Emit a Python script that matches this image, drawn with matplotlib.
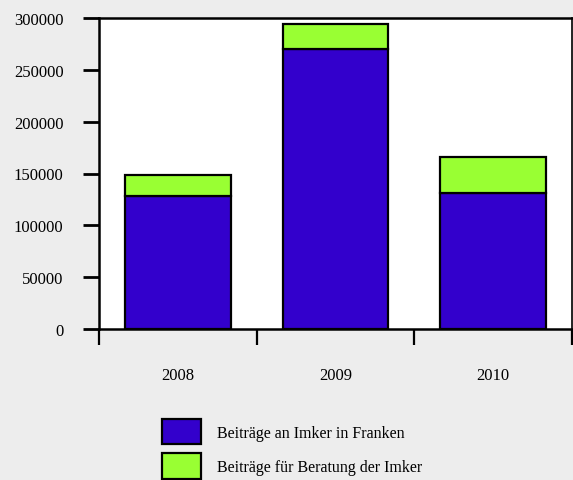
import matplotlib
matplotlib.use("Agg")
import matplotlib.pyplot as plt
import numpy as np

years = ["2008", "2009", "2010"]
beitraege_imker = [128500, 270000, 131000]
beitraege_beratung = [20000, 24000, 34500]
series_labels = ["Beiträge an Imker in Franken", "Beiträge für Beratung der Imker"]
colors = ["#3300cc", "#99ff33"]
yticks = [0, 50000, 100000, 150000, 200000, 250000, 300000]

plt.rcParams["font.family"] = ["Liberation Serif", "DejaVu Serif"]
plt.rcParams["font.size"] = 12

fig = plt.figure(figsize=(5.73, 4.81), dpi=100, facecolor="#ededed")
ax = fig.add_axes([99 / 573, 1 - 330 / 481, 473 / 573, 311 / 481])
ax.set_facecolor("white")

x = np.arange(len(years))
b1 = ax.bar(x, beitraege_imker, width=0.67, color=colors[0], edgecolor="black",
            linewidth=1.6, label=series_labels[0])
b2 = ax.bar(x, beitraege_beratung, width=0.67, bottom=beitraege_imker,
            color=colors[1], edgecolor="black", linewidth=1.6, label=series_labels[1])

ax.set_xlim(-0.5, len(years) - 0.5)
ax.set_ylim(0, 300000)
ax.set_yticks(yticks)
ax.set_yticklabels([str(v) for v in yticks])

ax.set_xticks(x)
ax.set_xticklabels(years)
ax.set_xticks(np.arange(-0.5, len(years)), minor=True)
ax.tick_params(axis="x", which="major", length=0, pad=27)
ax.tick_params(axis="x", which="minor", length=11.5, width=1.6, direction="out")
ax.tick_params(axis="y", length=11.5, width=2, pad=14, direction="out")

for side in ["left", "bottom", "top", "right"]:
    ax.spines[side].set_linewidth(1.8)
ax.spines["right"].set_linewidth(1.2)

fig.legend(handles=[b1, b2], labels=series_labels, loc="upper left",
           bbox_to_anchor=(162 / 573, 1 - 420 / 481), frameon=False,
           fontsize=11.5, borderpad=0, borderaxespad=0, handlelength=2.44,
           handleheight=2.07, handletextpad=1.0, labelspacing=0.56)

fig.savefig("out.png", dpi=100, facecolor=fig.get_facecolor())
